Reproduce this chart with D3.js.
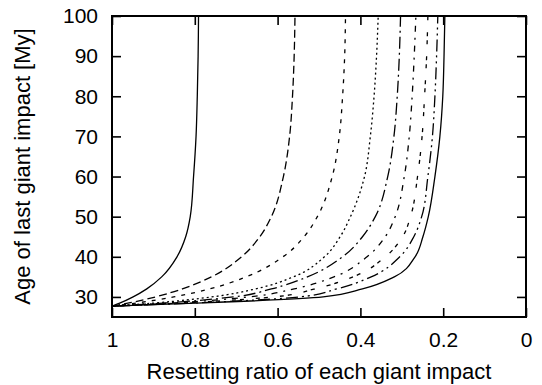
<!DOCTYPE html>
<html>
<head>
<meta charset="utf-8">
<script src="https://cdn.jsdelivr.net/npm/d3@7"></script>
<style>
  body { margin: 0; background: #fff; }
  svg text { font-family: "Liberation Sans", Arial, Helvetica, sans-serif; fill: #000; }
  .axis path.domain { display: none; }
  .axis line { stroke: #000; stroke-width: 1.6px; }
</style>
</head>
<body>
<div id="chart"></div>
<script>
// values, one row per curve:
// ages (My) at which each curve is sampled, and the resetting ratio where it sits
const ages = [27.7, 28.5, 30, 32, 35, 40, 45, 50, 60, 70, 80, 90, 100];

const ratio1 = [1, 0.980, 0.949, 0.916, 0.880, 0.843, 0.822, 0.811, 0.803, 0.797, 0.794, 0.792, 0.791];
const ratio2 = [1, 0.959, 0.895, 0.830, 0.760, 0.687, 0.643, 0.615, 0.586, 0.571, 0.564, 0.560, 0.558];
const ratio3 = [1, 0.940, 0.851, 0.764, 0.676, 0.587, 0.536, 0.504, 0.468, 0.451, 0.443, 0.438, 0.436];
const ratio4 = [1, 0.895, 0.759, 0.653, 0.562, 0.487, 0.449, 0.424, 0.390, 0.376, 0.367, 0.361, 0.357];
const ratio5 = [1, 0.870, 0.707, 0.615, 0.528, 0.443, 0.395, 0.364, 0.334, 0.319, 0.311, 0.306, 0.303];
const ratio6 = [1, 0.850, 0.670, 0.560, 0.464, 0.384, 0.340, 0.316, 0.294, 0.282, 0.275, 0.270, 0.266];
const ratio7 = [1, 0.830, 0.610, 0.510, 0.418, 0.340, 0.298, 0.279, 0.262, 0.251, 0.245, 0.240, 0.237];
const ratio8 = [1, 0.800, 0.546, 0.457, 0.374, 0.305, 0.271, 0.252, 0.237, 0.226, 0.220, 0.216, 0.213];
const ratio9 = [1, 0.780, 0.490, 0.395, 0.318, 0.268, 0.249, 0.236, 0.220, 0.208, 0.201, 0.198, 0.196];

const series = [ratio1, ratio2, ratio3, ratio4, ratio5, ratio6, ratio7, ratio8, ratio9];

const xTicks = [1, 0.8, 0.6, 0.4, 0.2, 0];
const yTicks = [30, 40, 50, 60, 70, 80, 90, 100];

const xTitle = "Resetting ratio of each giant impact";
const yTitle = "Age of last giant impact [My]";

// gnuplot-like dash patterns, one per curve
const dl = 2;
const dashes = [
    [],
    [4, 2],
    [2, 3],
    [1, 1.5],
    [6, 2, 1, 2],
    [3, 3, 1, 3],
    [2, 2, 2, 6],
    [1, 2, 6, 2, 1, 2],
    []
];

const margin = {top: 16, right: 16, bottom: 68, left: 112};
const W = 542, H = 385;
const width = W - margin.left - margin.right;
const height = H - margin.top - margin.bottom;

const svg = d3.select("#chart").append("svg")
    .attr("width", W)
    .attr("height", H);

const g = svg.append("g")
    .attr("transform", `translate(${margin.left},${margin.top})`);

// scales (x runs from 1 down to 0)
const x = d3.scaleLinear().domain([1, 0]).range([0, width]);
const y = d3.scaleLinear().domain([25, 100]).range([height, 0]);

// curves
const line = d3.line()
    .x(d => x(d[0]))
    .y(d => y(d[1]))
    .curve(d3.curveMonotoneY);

g.append("defs").append("clipPath").attr("id", "clip")
    .append("rect").attr("width", width).attr("height", height);

g.append("g")
    .attr("clip-path", "url(#clip)")
    .selectAll("path")
    .data(series.map(r => r.map((v, i) => [v, ages[i]])))
    .enter().append("path")
    .attr("d", line)
    .attr("fill", "none")
    .attr("stroke", "#000")
    .attr("stroke-width", 1.3)
    .attr("stroke-dasharray", (d, i) => dashes[i].length ? dashes[i].map(v => v * dl).join(",") : null);

// axes, ticks pointing inward
g.append("g")
    .attr("class", "axis")
    .attr("transform", `translate(0,${height})`)
    .call(d3.axisBottom(x).tickValues(xTicks).tickSize(-9).tickPadding(15).tickFormat(d3.format("")))
    .selectAll("text")
    .style("font-size", "21px");

g.append("g")
    .attr("class", "axis")
    .call(d3.axisLeft(y).tickValues(yTicks).tickSize(-9).tickPadding(14))
    .selectAll("text")
    .style("font-size", "21px");

g.append("g")
    .attr("class", "axis")
    .call(d3.axisTop(x).tickValues(xTicks).tickSize(-9).tickFormat(""));

g.append("g")
    .attr("class", "axis")
    .attr("transform", `translate(${width},0)`)
    .call(d3.axisRight(y).tickValues(yTicks).tickSize(-9).tickFormat(""));

// frame
g.append("rect")
    .attr("width", width)
    .attr("height", height)
    .attr("fill", "none")
    .attr("stroke", "#000")
    .attr("stroke-width", 2);

// axis titles
svg.append("text")
    .attr("x", margin.left + width / 2)
    .attr("y", 379)
    .attr("text-anchor", "middle")
    .style("font-size", "22px")
    .text(xTitle);

svg.append("text")
    .attr("transform", `translate(30,${margin.top + height / 2}) rotate(-90)`)
    .attr("text-anchor", "middle")
    .style("font-size", "22px")
    .text(yTitle);
</script>
</body>
</html>
